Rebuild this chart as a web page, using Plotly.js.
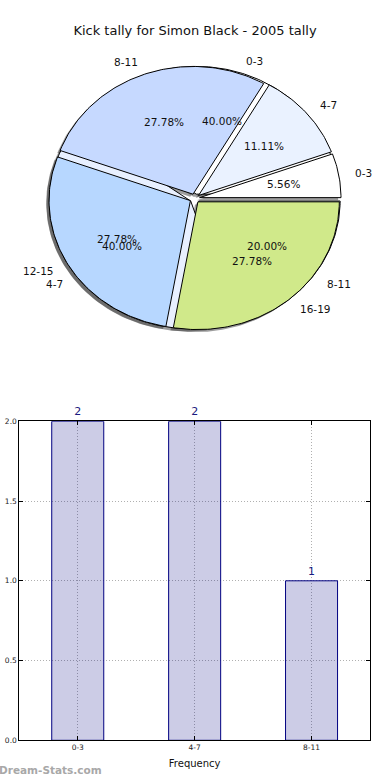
<!DOCTYPE html>
<html>
<head>
<meta charset="utf-8">
<script src="https://cdn.plot.ly/plotly-3.0.1.min.js"></script>
<style>html,body{margin:0;padding:0;background:#fff;}#chart{width:390px;height:780px;}</style>
</head>
<body>
<div id="chart"></div>
<script>
// ---- data ----
const titleText = 'Kick tally for Simon Black - 2005 tally';
const pieALabels = ['0-3', '4-7', '8-11', '12-15', '16-19'];
const pieAValues = [1, 2, 5, 5, 5];
const pieAColors = ['#ffffff', '#eaf2ff', '#c6d9ff', '#b7d7ff', '#d0e98a'];
const pieBLabels = ['0-3', '4-7', '8-11'];
const pieBValues = [2, 2, 1];
const pieBColors = ['#ffffff', '#e8f0ff', '#c6d9ff'];
const barCategories = ['0-3', '4-7', '8-11'];
const barValues = [2, 2, 1];
const yTickVals = [0, 0.5, 1, 1.5, 2];
const yTickText = ['0.0', '0.5', '1.0', '1.5', '2.0'];
const xAxisLabel = 'Frequency';
const watermark = 'Dream-Stats.com';

// ---- pie geometry helpers ----
const EXPLODE = 0.035, SHADOW = 0.02;
const FONT = 'DejaVu Sans, Verdana, sans-serif';

function wedges(values) {
  const total = values.reduce((a, b) => a + b, 0);
  let start = 0;
  return values.map(v => {
    const t1 = start, t2 = start + 360 * v / total;
    start = t2;
    const mid = (t1 + t2) / 2 * Math.PI / 180;
    return {t1, t2, mid, pct: (100 * v / total).toFixed(2) + '%',
            dx: EXPLODE * Math.cos(mid), dy: EXPLODE * Math.sin(mid)};
  });
}
function wedgePath(w, ox, oy) {
  const xs = [w.dx + ox], ys = [w.dy + oy];
  const n = Math.max(4, Math.ceil(w.t2 - w.t1));
  for (let i = 0; i <= n; i++) {
    const t = (w.t1 + (w.t2 - w.t1) * i / n) * Math.PI / 180;
    xs.push(w.dx + ox + Math.cos(t));
    ys.push(w.dy + oy + Math.sin(t));
  }
  xs.push(w.dx + ox); ys.push(w.dy + oy);
  return {xs, ys};
}

const wA = wedges(pieAValues), wB = wedges(pieBValues);
const traces = [];
[wB, wA].forEach(ws => ws.forEach(w => {
  const p = wedgePath(w, -SHADOW, -SHADOW);
  traces.push({type: 'scatter', mode: 'lines', x: p.xs, y: p.ys, fill: 'toself',
    fillcolor: 'rgba(60,60,60,0.5)', line: {width: 0, color: 'rgba(0,0,0,0)'},
    hoverinfo: 'skip', showlegend: false, xaxis: 'x', yaxis: 'y'});
}));
[[wB, pieBColors], [wA, pieAColors]].forEach(([ws, cols]) => ws.forEach((w, i) => {
  const p = wedgePath(w, 0, 0);
  traces.push({type: 'scatter', mode: 'lines', x: p.xs, y: p.ys, fill: 'toself',
    fillcolor: cols[i], line: {width: 1, color: '#000'},
    hoverinfo: 'skip', showlegend: false, xaxis: 'x', yaxis: 'y'});
}));

const annotations = [];
[[wB, pieBLabels], [wA, pieALabels]].forEach(([ws, labs]) => ws.forEach((w, i) => {
  const lx = w.dx + 1.1 * Math.cos(w.mid), ly = w.dy + 1.1 * Math.sin(w.mid);
  annotations.push({xref: 'x', yref: 'y', x: lx, y: ly, text: labs[i], showarrow: false,
    xanchor: lx > 0 ? 'left' : 'right', yanchor: 'middle',
    font: {family: FONT, size: 10.5, color: '#111'}});
  const px = w.dx + 0.6 * Math.cos(w.mid), py = w.dy + 0.6 * Math.sin(w.mid);
  annotations.push({xref: 'x', yref: 'y', x: px, y: py, text: w.pct, showarrow: false,
    xanchor: 'center', yanchor: 'middle', font: {family: FONT, size: 10.5, color: '#111'}});
}));
annotations.push({xref: 'paper', yref: 'paper', x: 0, y: 1 - 770 / 780, text: watermark,
  showarrow: false, xanchor: 'left', yanchor: 'middle', xshift: -3,
  font: {family: FONT, size: 10.5, color: '#a8a8a8', weight: 'bold'}});

traces.push({type: 'bar', x: barCategories, y: barValues, width: 0.445,
  marker: {color: 'rgba(0,0,128,0.2)', line: {color: '#000080', width: 1}},
  text: barValues.map(String), textposition: 'outside', cliponaxis: false,
  textfont: {family: FONT, size: 11, color: '#1a1a80'},
  hoverinfo: 'skip', showlegend: false, xaxis: 'x2', yaxis: 'y2'});

const layout = {
  width: 390, height: 780, margin: {l: 0, r: 0, t: 0, b: 0},
  paper_bgcolor: '#fff', plot_bgcolor: 'rgba(0,0,0,0)', showlegend: false,
  title: {text: titleText, font: {family: FONT, size: 13, color: '#111'},
    x: 0.5, xanchor: 'center', xref: 'paper', y: 1 - 30 / 780, yref: 'container', yanchor: 'middle'},
  xaxis: {domain: [0, 1], range: [-1.377, 1.381], visible: false, fixedrange: true},
  yaxis: {domain: [1 - 360 / 780, 1 - 40 / 780], range: [-1.265, 1.240], visible: false, fixedrange: true},
  xaxis2: {domain: [19.3 / 390, 370 / 390], anchor: 'y2', type: 'category', range: [-0.5, 2.5],
    showline: true, linecolor: '#000', linewidth: 1, mirror: 'allticks',
    ticks: 'inside', ticklen: 4, tickcolor: '#000',
    showgrid: true, gridcolor: '#b0b0b0', griddash: '1px,2px', gridwidth: 1,
    tickfont: {family: FONT, size: 7.5, color: '#222'},
    title: {text: xAxisLabel, font: {family: FONT, size: 10, color: '#111'}, standoff: 8}},
  yaxis2: {domain: [1 - 740.3 / 780, 1 - 421.3 / 780], anchor: 'x2', range: [0, 2],
    tickvals: yTickVals, ticktext: yTickText, zeroline: false,
    showline: true, linecolor: '#000', linewidth: 1, mirror: 'allticks',
    ticks: 'inside', ticklen: 4, tickcolor: '#000',
    showgrid: true, gridcolor: '#b0b0b0', griddash: '1px,2px', gridwidth: 1,
    tickfont: {family: FONT, size: 7.5, color: '#222'}},
  annotations: annotations
};

Plotly.newPlot('chart', traces, layout, {displayModeBar: false, staticPlot: true});
</script>
</body>
</html>
